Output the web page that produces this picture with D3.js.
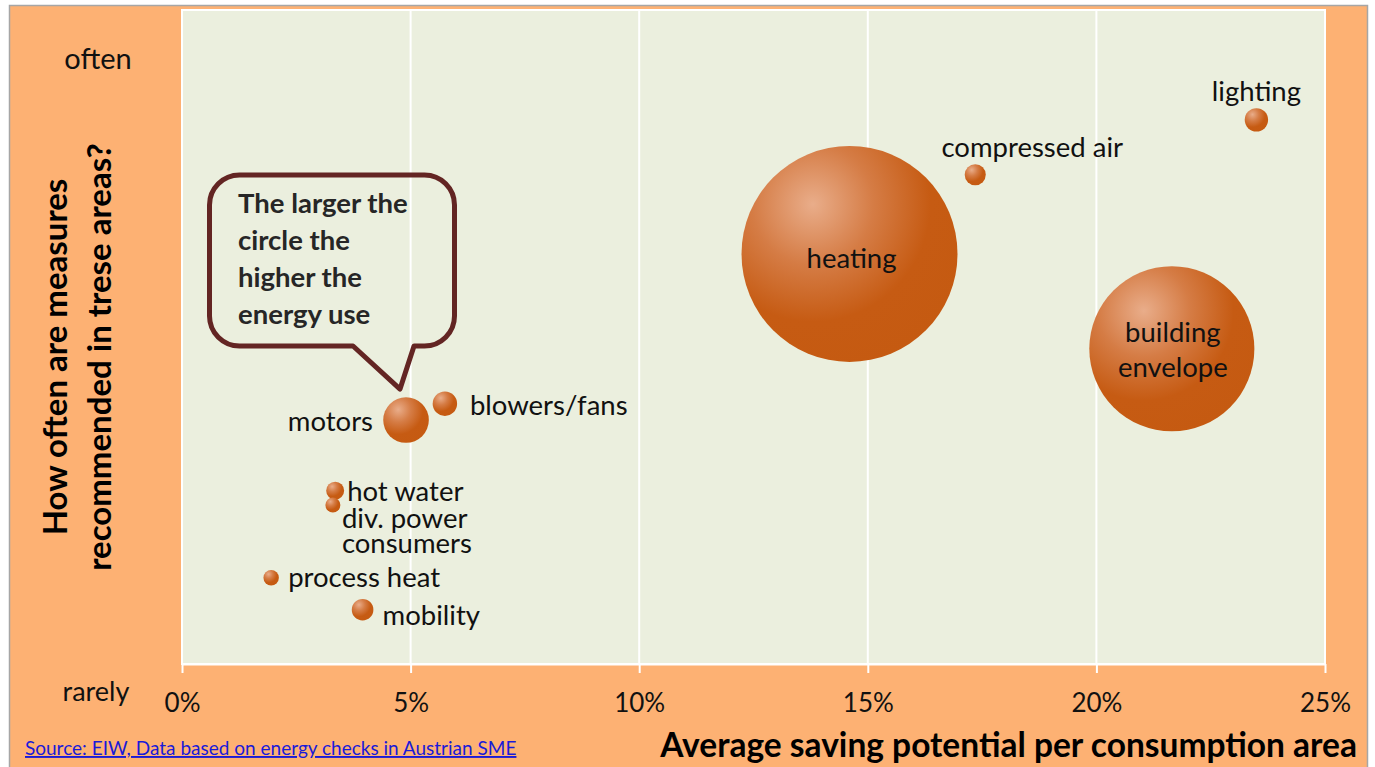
<!DOCTYPE html>
<html>
<head>
<meta charset="utf-8">
<script src="https://cdn.jsdelivr.net/npm/d3@7/dist/d3.min.js"></script>
<style>
body { margin: 0; background: #fff; }
text { font-family: Lato, "Open Sans", sans-serif; }
</style>
</head>
<body>
<div id="main"></div>
<script>

// data
var areas = ["lighting", "compressed air", "heating", "building envelope", "motors",
             "blowers/fans", "hot water", "div. power consumers", "process heat", "mobility"];
var savingPct = [23.5, 17.35, 14.6, 21.65, 4.9, 5.75, 3.35, 3.3, 1.95, 3.95];   // x, %
var frequency = [83.2, 74.8, 62.7, 48.2, 37.3, 39.8, 26.5, 24.3, 13.2, 8.3];     // y, rarely(0) .. often
var energyUse = [1.17, 0.95, 100, 58.4, 4.46, 1.28, 0.69, 0.48, 0.51, 1.0];      // bubble area
var xTicks = [0, 5, 10, 15, 20, 25];
var yLabels = ["rarely", "often"];
var calloutLines = ["The larger the", "circle the", "higher the", "energy use"];

// label placement (relative to bubble centre)
var labelPos = {
    "lighting":             {anchor: "middle", dx: 0,   dy: -19, words: 1},
    "compressed air":       {anchor: "middle", dx: 57,  dy: -18, words: 2},
    "heating":              {anchor: "middle", dx: 2,   dy: 14,  words: 1},
    "building envelope":    {anchor: "middle", dx: 1,   dy: -7,  words: 1},
    "motors":               {anchor: "end",    dx: -33, dy: 11,  words: 1},
    "blowers/fans":         {anchor: "start",  dx: 25,  dy: 11,  words: 1},
    "hot water":            {anchor: "start",  dx: 12,  dy: 10,  words: 2},
    "div. power consumers": {anchor: "start",  dx: 9,   dy: 23,  words: 2},
    "process heat":         {anchor: "start",  dx: 17,  dy: 9,   words: 2},
    "mobility":             {anchor: "start",  dx: 20,  dy: 15,  words: 1}
};

var data = areas.map(function(a, i) {
    return {name: a, x: savingPct[i], y: frequency[i], size: energyUse[i]};
});

// dimensions
var svg_width = 1375, svg_height = 767;
var plot = {left: 182, top: 10, right: 1325, bottom: 664};

var svg = d3.select("#main").append("svg")
    .attr("width", svg_width)
    .attr("height", svg_height);

// gradient for the bubbles
var grad = svg.append("defs").append("radialGradient")
    .attr("id", "ball")
    .attr("cx", 0.33).attr("cy", 0.27).attr("r", 0.8)
    .attr("fx", 0.33).attr("fy", 0.27);
grad.append("stop").attr("offset", 0).attr("stop-color", "#e9ad8a");
grad.append("stop").attr("offset", 0.35).attr("stop-color", "#d57c45");
grad.append("stop").attr("offset", 0.68).attr("stop-color", "#c65b13");
grad.append("stop").attr("offset", 1).attr("stop-color", "#c55a11");

// chart area (orange frame)
svg.append("rect")
    .attr("x", 9.5).attr("y", 5.5)
    .attr("width", 1358).attr("height", 780)
    .attr("fill", "#fdb173")
    .attr("stroke", "#a6a6a6")
    .attr("stroke-width", 1.5);

// plot area
svg.append("rect")
    .attr("x", plot.left).attr("y", plot.top)
    .attr("width", plot.right - plot.left)
    .attr("height", plot.bottom - plot.top)
    .attr("fill", "#ebefde")
    .attr("stroke", "#fff")
    .attr("stroke-width", 2);

/** scales **/
var xScale = d3.scaleLinear().domain([0, 25]).range([plot.left, plot.right]);
var yScale = d3.scaleLinear().domain([0, 100]).range([plot.bottom, plot.top]);
var rScale = d3.scaleSqrt().domain([0, 100]).range([0, 108]);

// vertical gridlines
svg.append("g").selectAll("line")
    .data(xTicks)
    .enter().append("line")
    .attr("x1", function(d) { return xScale(d); })
    .attr("x2", function(d) { return xScale(d); })
    .attr("y1", plot.top)
    .attr("y2", plot.bottom)
    .attr("stroke", "#fff")
    .attr("stroke-width", 2);

// x axis
var xAxis = svg.append("g")
    .attr("transform", "translate(0," + plot.bottom + ")")
    .call(d3.axisBottom(xScale)
        .tickValues(xTicks)
        .tickFormat(function(d) { return d + "%"; })
        .tickSize(9)
        .tickSizeOuter(0));
xAxis.select(".domain").attr("stroke", "#fff").attr("stroke-width", 2);
xAxis.selectAll(".tick line").attr("stroke", "#fff").attr("stroke-width", 2);
xAxis.selectAll(".tick text")
    .attr("y", 48).attr("dy", null)
    .attr("fill", "#111")
    .style("font-size", "26px")
    .style("font-family", "Lato, sans-serif");

// y axis end labels
svg.append("text")
    .attr("x", 98).attr("y", 69)
    .attr("text-anchor", "middle")
    .style("font-size", "29px")
    .attr("fill", "#111")
    .text(yLabels[1]);
svg.append("text")
    .attr("x", 96).attr("y", 701)
    .attr("text-anchor", "middle")
    .style("font-size", "27px")
    .attr("fill", "#111")
    .text(yLabels[0]);

// axis titles
var yTitle = svg.append("text")
    .attr("transform", "translate(67,357) rotate(-90)")
    .attr("text-anchor", "middle")
    .style("font-size", "33px")
    .style("font-weight", "bold")
    .attr("fill", "#000");
yTitle.append("tspan").attr("x", 0).attr("y", 0).text("How often are measures");
yTitle.append("tspan").attr("x", 0).attr("y", 44).text("recommended in trese areas?");

svg.append("text")
    .attr("x", 1357).attr("y", 757)
    .attr("text-anchor", "end")
    .style("font-size", "33.5px")
    .style("font-weight", "bold")
    .attr("fill", "#000")
    .text("Average saving potential per consumption area");

// source
svg.append("text")
    .attr("x", 25).attr("y", 755)
    .style("font-size", "19px")
    .style("text-decoration", "underline")
    .attr("fill", "#1a1ad8")
    .text("Source: EIW, Data based on energy checks in Austrian SME");

/** bubbles **/
svg.append("g").selectAll("circle")
    .data(data)
    .enter().append("circle")
    .attr("cx", function(d) { return xScale(d.x); })
    .attr("cy", function(d) { return yScale(d.y); })
    .attr("r", function(d) { return rScale(d.size); })
    .attr("fill", "url(#ball)");

// bubble labels
var labels = svg.append("g").selectAll("text")
    .data(data)
    .enter().append("text")
    .attr("text-anchor", function(d) { return labelPos[d.name].anchor; })
    .style("font-size", "27.5px")
    .attr("fill", "#111");

labels.each(function(d) {
    var p = labelPos[d.name];
    var words = d.name.split(" ");
    var lines = [words.slice(0, p.words).join(" ")];
    if (words.length > p.words) lines.push(words.slice(p.words).join(" "));
    var cx = xScale(d.x) + p.dx, cy = yScale(d.y) + p.dy;
    var lh = d.name == "div. power consumers" ? 24.5 : 35;
    d3.select(this).selectAll("tspan")
        .data(lines)
        .enter().append("tspan")
        .attr("x", cx)
        .attr("y", function(l, i) { return cy + i * lh; })
        .text(function(l) { return l; });
});

/** callout, pointing at the motors bubble **/
var motors = data[areas.indexOf("motors")];
var tipX = xScale(motors.x) - 6, tipY = yScale(motors.y) - 31;
var bx0 = 209.5, bx1 = 454.5, by0 = 175, by1 = 346, rad = 30;
var callout = d3.path();
callout.moveTo(bx0 + rad, by0);
callout.lineTo(bx1 - rad, by0);
callout.arcTo(bx1, by0, bx1, by0 + rad, rad);
callout.lineTo(bx1, by1 - rad);
callout.arcTo(bx1, by1, bx1 - rad, by1, rad);
callout.lineTo(tipX + 14, by1);
callout.lineTo(tipX, tipY);
callout.lineTo(tipX - 47, by1);
callout.lineTo(bx0 + rad, by1);
callout.arcTo(bx0, by1, bx0, by1 - rad, rad);
callout.lineTo(bx0, by0 + rad);
callout.arcTo(bx0, by0, bx0 + rad, by0, rad);
callout.closePath();

svg.append("path")
    .attr("d", callout.toString())
    .attr("fill", "none")
    .attr("stroke", "#632523")
    .attr("stroke-width", 5)
    .attr("stroke-linejoin", "round");

svg.append("text")
    .style("font-size", "27.5px")
    .style("font-weight", "bold")
    .attr("fill", "#262626")
    .selectAll("tspan")
    .data(calloutLines)
    .enter().append("tspan")
    .attr("x", 238)
    .attr("y", function(d, i) { return 213 + i * 37; })
    .text(function(d) { return d; });

</script>
</body>
</html>
